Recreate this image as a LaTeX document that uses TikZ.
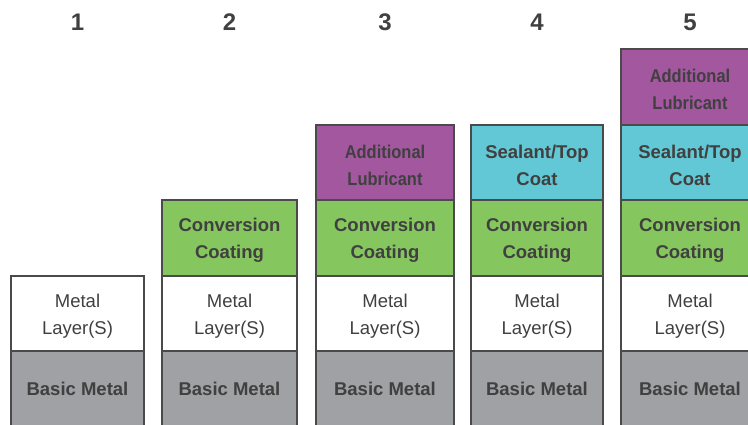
\documentclass[tikz,border=0pt]{standalone}
\usepackage{fontspec}
\setmainfont{Liberation Sans}
\newfontfamily\narrowsans[FakeStretch=0.89]{Liberation Sans}
\definecolor{edgegray}{HTML}{4A4A4A}
\definecolor{textgray}{HTML}{404040}
\definecolor{basegray}{HTML}{A0A1A5}
\definecolor{convgreen}{HTML}{86C65F}
\definecolor{lubpurple}{HTML}{A3579F}
\definecolor{sealcyan}{HTML}{63C8D5}
\tikzset{
  layerbox/.style={draw=edgegray, line width=2pt, inner sep=0pt},
  basebox/.style={layerbox, fill=basegray},
  metalbox/.style={layerbox, fill=white},
  convbox/.style={layerbox, fill=convgreen},
  lubbox/.style={layerbox, fill=lubpurple},
  sealbox/.style={layerbox, fill=sealcyan},
  boldtext/.style={inner sep=0pt, align=center, text=textgray,
    font=\fontsize{18.5}{27}\selectfont\bfseries},
  plaintext/.style={boldtext, font=\fontsize{18.5}{27}\selectfont\mdseries},
  narrowtext/.style={boldtext, font=\fontsize{18.5}{27}\selectfont\narrowsans\bfseries},
  numlabel/.style={text=textgray, font=\fontsize{24}{28}\selectfont\bfseries, inner sep=0pt}
}
% #1 name, #2 box style, #3 text style, #4 left, #5 right, #6 top(px), #7 bottom(px), #8 text
\newcommand{\lay}[8]{%
  \node[#2, minimum width={#5-#4}, minimum height={#7-#6}]
    (#1) at ({(#4+#5)/2},{425-(#6+#7)/2}) {};
  \node[#3] (#1t) at ([yshift=-2.5pt]#1.center) {#8};}
\newcommand{\baselay}[4]{%
  \node[basebox, minimum width={#3-#2}, minimum height={427-351}]
    (#1) at ({(#2+#3)/2},{425-(351+427)/2}) {};
  \node[boldtext] (#1t) at ([yshift=0.5pt]#1.center) {#4};}
\begin{document}
\begin{tikzpicture}[x=1pt,y=1pt]
\useasboundingbox (0,0) rectangle (748,425);
\clip (0,0) rectangle (748,425);
% column 1
\baselay{b1}{11}{144}{Basic Metal}
\lay{m1}{metalbox}{plaintext}{11}{144}{276}{351}{Metal\\Layer(S)}
% column 2
\baselay{b2}{162}{297}{Basic Metal}
\lay{m2}{metalbox}{plaintext}{162}{297}{276}{351}{Metal\\Layer(S)}
\lay{c2}{convbox}{boldtext}{162}{297}{200}{276}{Conversion\\Coating}
% column 3
\baselay{b3}{316}{454}{Basic Metal}
\lay{m3}{metalbox}{plaintext}{316}{454}{276}{351}{Metal\\Layer(S)}
\lay{c3}{convbox}{boldtext}{316}{454}{200}{276}{Conversion\\Coating}
\lay{l3}{lubbox}{narrowtext}{316}{454}{125}{200}{Additional\\Lubricant}
% column 4
\baselay{b4}{471}{603}{Basic Metal}
\lay{m4}{metalbox}{plaintext}{471}{603}{276}{351}{Metal\\Layer(S)}
\lay{c4}{convbox}{boldtext}{471}{603}{200}{276}{Conversion\\Coating}
\lay{s4}{sealbox}{boldtext}{471}{603}{125}{200}{Sealant/Top\\Coat}
% column 5
\baselay{b5}{621}{759}{Basic Metal}
\lay{m5}{metalbox}{plaintext}{621}{759}{276}{351}{Metal\\Layer(S)}
\lay{c5}{convbox}{boldtext}{621}{759}{200}{276}{Conversion\\Coating}
\lay{s5}{sealbox}{boldtext}{621}{759}{125}{200}{Sealant/Top\\Coat}
\lay{l5}{lubbox}{narrowtext}{621}{759}{49}{125}{Additional\\Lubricant}
% numbers
\node[numlabel] (n1) at (77.5,{425-22}) {1};
\node[numlabel] (n2) at (229.5,{425-22}) {2};
\node[numlabel] (n3) at (385,{425-22}) {3};
\node[numlabel] (n4) at (537,{425-22}) {4};
\node[numlabel] (n5) at (690,{425-22}) {5};
\end{tikzpicture}
\end{document}
